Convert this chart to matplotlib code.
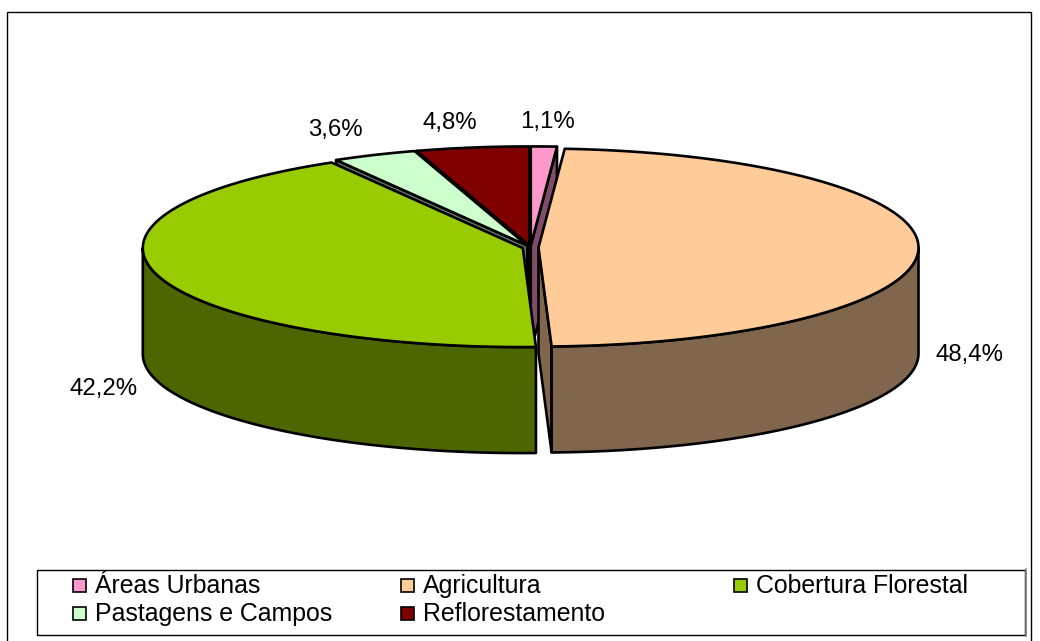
"""
Land use 3D pie chart.
"""
import numpy as np
import matplotlib
matplotlib.use("Agg")
import matplotlib.pyplot as plt
from matplotlib.patches import Polygon, Rectangle

# --------------------------- Global stuff --------------------------- #
CATEGORIES = [
    "Áreas Urbanas", "Agricultura", "Cobertura Florestal",
    "Pastagens e Campos", "Reflorestamento",
]
VALUES = [1.1, 48.4, 42.2, 3.6, 4.8]
COLORS = ["#FF99CC", "#FFCC99", "#99CC00", "#CCFFCC", "#800000"]
SIDE_COLORS = ["#804D66", "#80664D", "#4D6600", "#668066", "#400000"]
LABEL_POS = [(548, 122), (970, 355), (104, 389), (335, 130), (450, 123)]
LEGEND_POS = [(73, 585), (401, 585), (734, 585), (73, 613), (401, 613)]

CX, CY = 530.5, 247.5
RX, RY = 380.0, 99.0
DEPTH = 106.0
EXPLODE = 8.0
LW = 1.9
FONT = "Liberation Sans"
FS = 17.3
LEGEND_FS = 17.9


def rim(center, t):
    """Points on the ellipse for clockwise-from-top angles t (radians)."""
    return np.column_stack([center[0] + RX * np.sin(t), center[1] - RY * np.cos(t)])


def draw_slice(ax, t0, t1, color, side):
    """Draw one exploded slice: visible side faces, then the top."""
    mid = (t0 + t1) / 2
    center = (CX + EXPLODE * np.sin(mid), CY - EXPLODE * RY / RX * np.cos(mid))
    down = np.array([0, DEPTH])
    c = np.array(center)

    # cut faces, only when they look towards the viewer
    if np.sin(t0) < 0:
        pts = rim(center, np.array([t0]))[0]
        ax.add_patch(Polygon([c, pts, pts + down, c + down], fc=side, ec="k", lw=LW, joinstyle="round"))
    if np.sin(t1) > 0:
        pts = rim(center, np.array([t1]))[0]
        ax.add_patch(Polygon([c, pts, pts + down, c + down], fc=side, ec="k", lw=LW, joinstyle="round"))

    # outer wall, front half of the ellipse only
    lo, hi = max(t0, np.pi / 2), min(t1, 3 * np.pi / 2)
    if hi > lo:
        arc = rim(center, np.linspace(lo, hi, 120))
        ax.add_patch(Polygon(np.vstack([arc, arc[::-1] + down]), fc=side, ec="k", lw=LW, joinstyle="round"))

    arc = rim(center, np.linspace(t0, t1, 200))
    ax.add_patch(Polygon(np.vstack([c, arc]), fc=color, ec="k", lw=LW, joinstyle="round"))


def make_plot():
    """Make the pie, its labels and the legend in pixel coordinates."""
    fig = plt.figure(figsize=(10.4, 6.41), dpi=100)
    ax = fig.add_axes([0, 0, 1, 1])
    ax.set_xlim(0, 1040)
    ax.set_ylim(641, 0)
    ax.axis("off")

    # chart frame, bottom edge runs off the picture
    ax.add_patch(Rectangle((7, 12), 1024, 640, fc="white", ec="k", lw=1))

    edges = np.cumsum([0] + VALUES) / sum(VALUES) * 2 * np.pi
    for i in [4, 0, 3, 2, 1]:
        draw_slice(ax, edges[i], edges[i + 1], COLORS[i], SIDE_COLORS[i])

    for val, (x, y) in zip(VALUES, LABEL_POS):
        text = f"{val:.1f}%".replace(".", ",")
        ax.text(x, y, text, ha="center", va="center", family=FONT, fontsize=FS, color="k")

    ax.add_patch(Rectangle((37, 570), 988, 65, fc="white", ec="k", lw=1))
    ax.plot([1025.7, 1025.7], [569, 636], color="#808080", lw=1.2)
    for name, color, (x, y) in zip(CATEGORIES, COLORS, LEGEND_POS):
        ax.add_patch(Rectangle((x, y - 6.5), 13, 13, fc=color, ec="k", lw=1.2))
        ax.text(x + 22, y + 1, name, ha="left", va="center", family=FONT, fontsize=LEGEND_FS, color="k")
    return fig


if __name__ == "__main__":
    fig = make_plot()
    fig.savefig("out.png", dpi=100)
